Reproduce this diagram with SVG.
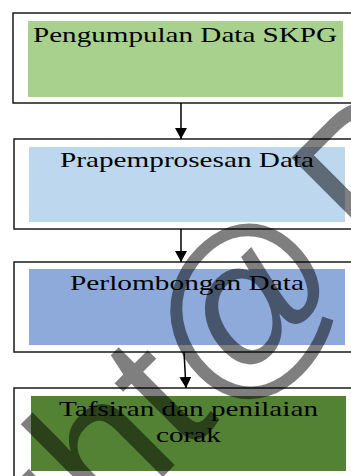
<svg xmlns="http://www.w3.org/2000/svg" width="351" height="476" viewBox="0 0 351 476">
<style>
.outer{fill:#ffffff;stroke:#1a1a1a;stroke-width:1.5}
.lbl{font-family:"Liberation Serif","Times New Roman",serif;font-size:22px;fill:#000}
.conn{stroke:#000;stroke-width:1.5;fill:none}
.wm{font-family:"Liberation Sans",Arial,sans-serif;font-size:190px;fill:#000;fill-opacity:0.5}
</style>
<defs>
<marker id="ah" markerWidth="12" markerHeight="12" refX="11" refY="6" orient="auto" markerUnits="userSpaceOnUse">
<path d="M0,0 L11,6 L0,12 Z" fill="#000"/>
</marker>
</defs>
<rect width="351" height="476" fill="#fff"/>
<g id="node1">
<rect class="outer" x="13" y="13" width="350" height="90"/>
<rect x="28" y="21" width="315" height="76" fill="#a9d18e"/>
<text class="lbl" x="33" y="41.5" textLength="304" lengthAdjust="spacingAndGlyphs">Pengumpulan Data SKPG</text>
</g>
<g id="node2">
<rect class="outer" x="14" y="139" width="350" height="90"/>
<rect x="29" y="147" width="316" height="75" fill="#bdd7ee"/>
<text class="lbl" x="60" y="166.5" textLength="254" lengthAdjust="spacingAndGlyphs">Prapemprosesan Data</text>
</g>
<g id="node3">
<rect class="outer" x="14" y="262" width="350" height="90"/>
<rect x="29" y="269" width="316" height="76" fill="#8eaadb"/>
<text class="lbl" x="70" y="290" textLength="234" lengthAdjust="spacingAndGlyphs">Perlombongan Data</text>
</g>
<g id="node4">
<rect class="outer" x="14" y="388" width="350" height="100"/>
<rect x="31" y="396" width="315" height="75" fill="#548235"/>
<text class="lbl" x="59" y="415.5" textLength="259" lengthAdjust="spacingAndGlyphs">Tafsiran dan penilaian</text>
<text class="lbl" x="156" y="441.5" textLength="65" lengthAdjust="spacingAndGlyphs">corak</text>
</g>
<g id="connectors">
<line class="conn" x1="181" y1="103" x2="181" y2="139" marker-end="url(#ah)"/>
<line class="conn" x1="181" y1="229" x2="181" y2="262" marker-end="url(#ah)"/>
<line class="conn" x1="184" y1="352" x2="186" y2="388" marker-end="url(#ah)"/>
</g>
<text class="wm" transform="translate(256,313) rotate(-45)" x="-364" y="50">ght@<tspan dx="26" dy="-4">P</tspan></text>
</svg>
